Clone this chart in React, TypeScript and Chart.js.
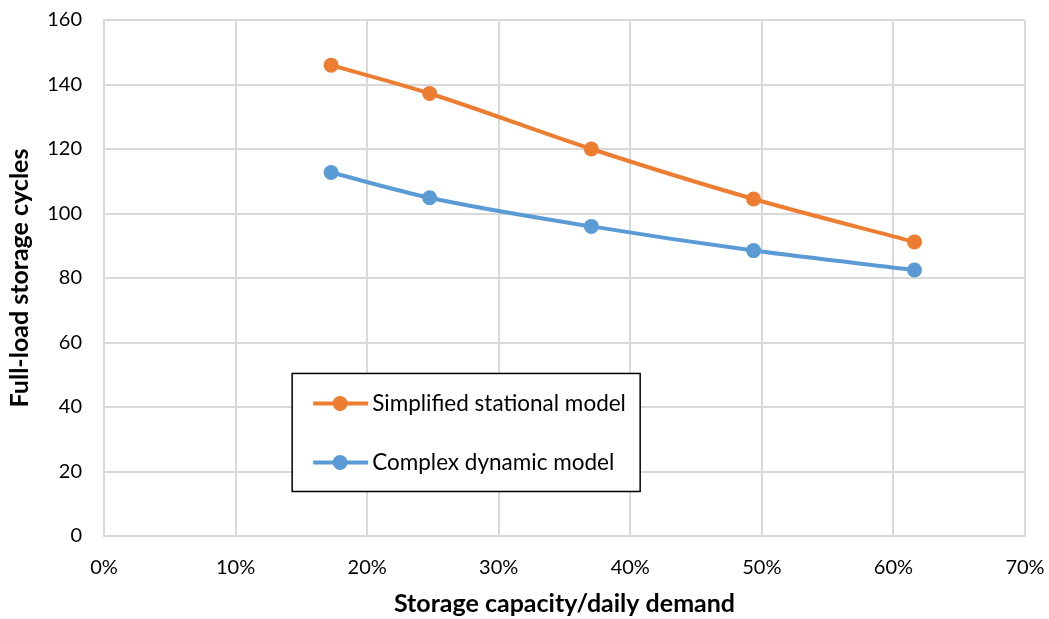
import React, { useEffect, useRef } from "react";
import { Chart, registerables } from "chart.js";

Chart.register(...registerables);

const capacityRatio = [17.26, 24.75, 37.04, 49.37, 61.6];
const simplifiedStational = [146.0, 137.2, 120.0, 104.5, 91.2];
const complexDynamic = [112.7, 104.9, 96.0, 88.5, 82.5];
const seriesLabels = ["Simplified stational model", "Complex dynamic model"];
const xTitle = "Storage capacity/daily demand";
const yTitle = "Full-load storage cycles";

const FONT = "Lato, 'Open Sans', sans-serif";

const boxLegend = {
  id: "boxLegend",
  afterDraw(chart: any) {
    const { ctx, scales } = chart;
    const x = scales.x;
    const y = scales.y;
    const left = x.getPixelForValue(14.3);
    const right = x.getPixelForValue(40.75);
    const top = y.getPixelForValue(50.4);
    const bottom = y.getPixelForValue(13.8);
    ctx.save();
    ctx.fillStyle = "#ffffff";
    ctx.fillRect(left, top, right - left, bottom - top);
    ctx.strokeStyle = "#000000";
    ctx.lineWidth = 1.5;
    ctx.strokeRect(left, top, right - left, bottom - top);
    const rows = [top + (bottom - top) * 0.254, top + (bottom - top) * 0.754];
    chart.data.datasets.forEach((ds: any, i: number) => {
      const ry = rows[i];
      ctx.strokeStyle = ds.borderColor;
      ctx.lineWidth = 4;
      ctx.beginPath();
      ctx.moveTo(left + 21, ry);
      ctx.lineTo(left + 76, ry);
      ctx.stroke();
      ctx.fillStyle = ds.backgroundColor;
      ctx.beginPath();
      ctx.arc(left + 48, ry, 7.5, 0, Math.PI * 2);
      ctx.fill();
      ctx.fillStyle = "#000000";
      ctx.font = `22.5px ${FONT}`;
      ctx.textBaseline = "middle";
      ctx.textAlign = "left";
      ctx.fillText(ds.label, left + 80, ry);
    });
    ctx.restore();
  },
};

export default function App() {
  const ref = useRef<HTMLCanvasElement>(null);
  useEffect(() => {
    if (!ref.current) return;
    const chart = new Chart(ref.current, {
      type: "line",
      data: {
        datasets: [
          {
            label: seriesLabels[0],
            data: capacityRatio.map((v, i) => ({ x: v, y: simplifiedStational[i] })),
            borderColor: "#ed7d31",
            backgroundColor: "#ed7d31",
            borderWidth: 4,
            pointRadius: 7.5,
            pointBorderWidth: 0,
            tension: 0.2,
            cubicInterpolationMode: "monotone",
          },
          {
            label: seriesLabels[1],
            data: capacityRatio.map((v, i) => ({ x: v, y: complexDynamic[i] })),
            borderColor: "#5b9bd5",
            backgroundColor: "#5b9bd5",
            borderWidth: 4,
            pointRadius: 7.5,
            pointBorderWidth: 0,
            tension: 0.2,
            cubicInterpolationMode: "monotone",
          },
        ],
      },
      options: {
        animation: false,
        responsive: false,
        maintainAspectRatio: false,
        layout: { padding: { top: 20, right: 24, left: 0, bottom: 0 } },
        plugins: { legend: { display: false }, tooltip: { enabled: false } },
        scales: {
          x: {
            type: "linear",
            min: 0,
            max: 70,
            ticks: {
              stepSize: 10,
              callback: (v: any) => `${v}%`,
              color: "#000000",
              font: { family: FONT, size: 20 },
              padding: 20,
              maxRotation: 0,
            },
            grid: { color: "#d9d9d9", lineWidth: 2, drawTicks: false },
            border: { color: "#d9d9d9", width: 2 },
            title: {
              display: true,
              text: xTitle,
              color: "#000000",
              font: { family: FONT, size: 25, weight: "bold" },
              padding: { top: 0, bottom: 0 },
            },
            afterFit: (s: any) => {
              s.height = 83;
              s.paddingLeft = 0;
              s.paddingRight = 0;
            },
          },
          y: {
            min: 0,
            max: 160,
            ticks: {
              stepSize: 20,
              color: "#000000",
              font: { family: FONT, size: 20 },
              padding: 22,
            },
            grid: { color: "#d9d9d9", lineWidth: 2, drawTicks: false },
            border: { color: "#d9d9d9", width: 2 },
            title: {
              display: true,
              text: yTitle,
              color: "#000000",
              font: { family: FONT, size: 25, weight: "bold" },
              padding: { top: 5, bottom: 4 },
            },
            afterFit: (s: any) => {
              s.width = 104;
              s.paddingTop = 0;
              s.paddingBottom = 0;
            },
          },
        },
      },
      plugins: [boxLegend],
    } as any);
    return () => chart.destroy();
  }, []);
  return (
    <div style={{ position: "fixed", left: 0, top: 0, width: 1049, height: 619, background: "#fff" }}>
      <canvas ref={ref} width={1049} height={619} style={{ width: 1049, height: 619 }} />
    </div>
  );
}
